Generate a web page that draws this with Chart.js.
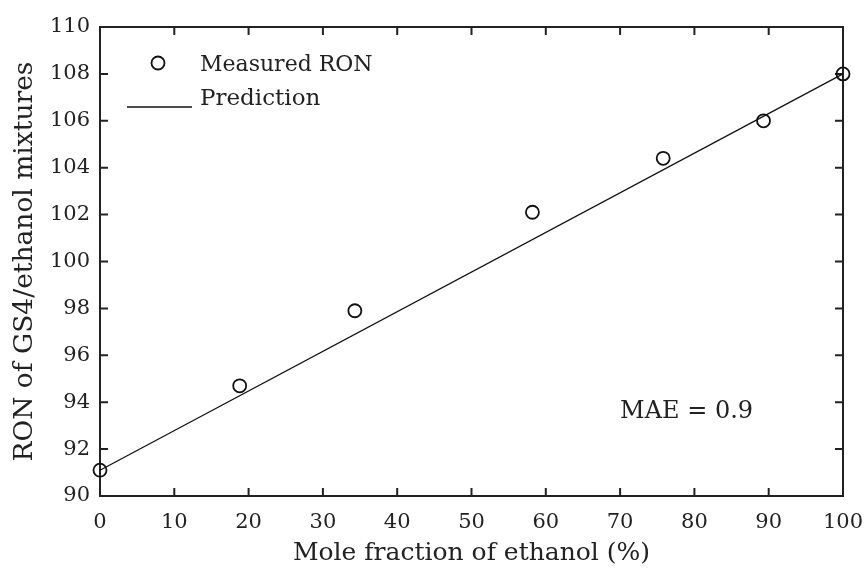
<!DOCTYPE html>
<html>
<head>
<meta charset="utf-8">
<script src="https://cdn.jsdelivr.net/npm/chart.js@4/dist/chart.umd.min.js"></script>
<style>
    html, body { margin: 0; padding: 0; background: #fff; }
    #wrap { width: 867px; height: 570px; }
</style>
</head>
<body>
<div id="wrap"><canvas id="ronChart" width="867" height="570"></canvas></div>
<script>
// measured points
const ethanolFraction = [0, 18.8, 34.3, 58.2, 75.8, 89.3, 100];
const measuredRon = [91.1, 94.7, 97.9, 102.1, 104.4, 106.0, 108.0];
// prediction line end points
const predFraction = [0, 100];
const predRon = [91.1, 108.0];

const xTicks = [0, 10, 20, 30, 40, 50, 60, 70, 80, 90, 100];
const yTicks = [90, 92, 94, 96, 98, 100, 102, 104, 106, 108, 110];

const SERIF = '"DejaVu Serif", "Liberation Serif", serif';
const INK = '#222';

// box around the plot with inward ticks on all four sides
const framePlugin = {
    id: 'frame',
    beforeDatasetsDraw(chart) {
        const { ctx, chartArea: a, scales } = chart;
        const len = 8;
        ctx.save();
        ctx.strokeStyle = INK;
        ctx.lineWidth = 2;
        ctx.strokeRect(a.left, a.top, a.right - a.left, a.bottom - a.top);
        ctx.beginPath();
        scales.x.ticks.forEach(t => {
            const px = scales.x.getPixelForValue(t.value);
            ctx.moveTo(px, a.bottom); ctx.lineTo(px, a.bottom - len);
            ctx.moveTo(px, a.top); ctx.lineTo(px, a.top + len);
        });
        scales.y.ticks.forEach(t => {
            const py = scales.y.getPixelForValue(t.value);
            ctx.moveTo(a.left, py); ctx.lineTo(a.left + len, py);
            ctx.moveTo(a.right, py); ctx.lineTo(a.right - len, py);
        });
        ctx.stroke();
        ctx.restore();
    }
};

// legend in the top-left corner + MAE note
const notesPlugin = {
    id: 'notes',
    afterDraw(chart) {
        const { ctx, chartArea: a, scales } = chart;
        const ds = chart.data.datasets;
        ctx.save();
        ctx.font = '22px ' + SERIF;
        ctx.fillStyle = INK;
        ctx.textBaseline = 'alphabetic';

        // measured marker
        ctx.beginPath();
        ctx.arc(a.left + 58, a.top + 36, 6.5, 0, Math.PI * 2);
        ctx.lineWidth = ds[0].borderWidth;
        ctx.strokeStyle = ds[0].borderColor;
        ctx.stroke();
        ctx.fillText(ds[0].label, a.left + 100, a.top + 44);

        // prediction line sample
        ctx.beginPath();
        ctx.moveTo(a.left + 27, a.top + 80);
        ctx.lineTo(a.left + 92, a.top + 80);
        ctx.lineWidth = ds[1].borderWidth;
        ctx.strokeStyle = ds[1].borderColor;
        ctx.stroke();
        ctx.font = '23px ' + SERIF;
        ctx.fillText(ds[1].label, a.left + 100, a.top + 78);

        ctx.font = '24px ' + SERIF;
        ctx.textBaseline = 'middle';
        ctx.fillText('MAE = 0.9', scales.x.getPixelForValue(70), scales.y.getPixelForValue(93.6));
        ctx.restore();
    }
};

const ctx = document.getElementById('ronChart');
new Chart(ctx.getContext('2d'), {
    type: 'scatter',
    data: {
        datasets: [{
            label: 'Measured RON',
            data: ethanolFraction.map((x, i) => ({ x: x, y: measuredRon[i] })),
            pointStyle: 'circle',
            pointRadius: 6.5,
            pointBorderWidth: 1.8,
            borderWidth: 1.8,
            borderColor: '#111',
            backgroundColor: 'rgba(0,0,0,0)',
            showLine: false,
            clip: false,
            order: 0
        }, {
            label: 'Prediction',
            data: predFraction.map((x, i) => ({ x: x, y: predRon[i] })),
            showLine: true,
            pointRadius: 0,
            borderWidth: 1.3,
            borderColor: '#111',
            backgroundColor: 'rgba(0,0,0,0)',
            clip: false,
            order: 1
        }]
    },
    options: {
        responsive: false,
        animation: false,
        layout: { padding: { top: 27, right: 24, left: 0, bottom: 0 } },
        plugins: {
            legend: { display: false },
            tooltip: { enabled: false }
        },
        scales: {
            x: {
                type: 'linear',
                min: 0,
                max: 100,
                afterBuildTicks: s => { s.ticks = xTicks.map(v => ({ value: v })); },
                afterFit: s => { s.height = 74; s.paddingLeft = 0; s.paddingRight = 0; },
                grid: { display: false, drawTicks: false },
                border: { display: false },
                ticks: { color: INK, padding: 14, font: { family: SERIF, size: 21 } },
                title: {
                    display: true,
                    text: 'Mole fraction of ethanol (%)',
                    color: INK,
                    font: { family: SERIF, size: 25 },
                    padding: { top: 0, bottom: 2 }
                }
            },
            y: {
                type: 'linear',
                min: 90,
                max: 110,
                afterBuildTicks: s => { s.ticks = yTicks.map(v => ({ value: v })); },
                afterFit: s => { s.width = 100; s.paddingTop = 0; s.paddingBottom = 0; },
                grid: { display: false, drawTicks: false },
                border: { display: false },
                ticks: { color: INK, padding: 10, font: { family: SERIF, size: 21 } },
                title: {
                    display: true,
                    text: 'RON of GS4/ethanol mixtures',
                    color: INK,
                    font: { family: SERIF, size: 26.5 },
                    padding: { top: 9, bottom: 0 }
                }
            }
        }
    },
    plugins: [framePlugin, notesPlugin]
});
</script>
</body>
</html>
